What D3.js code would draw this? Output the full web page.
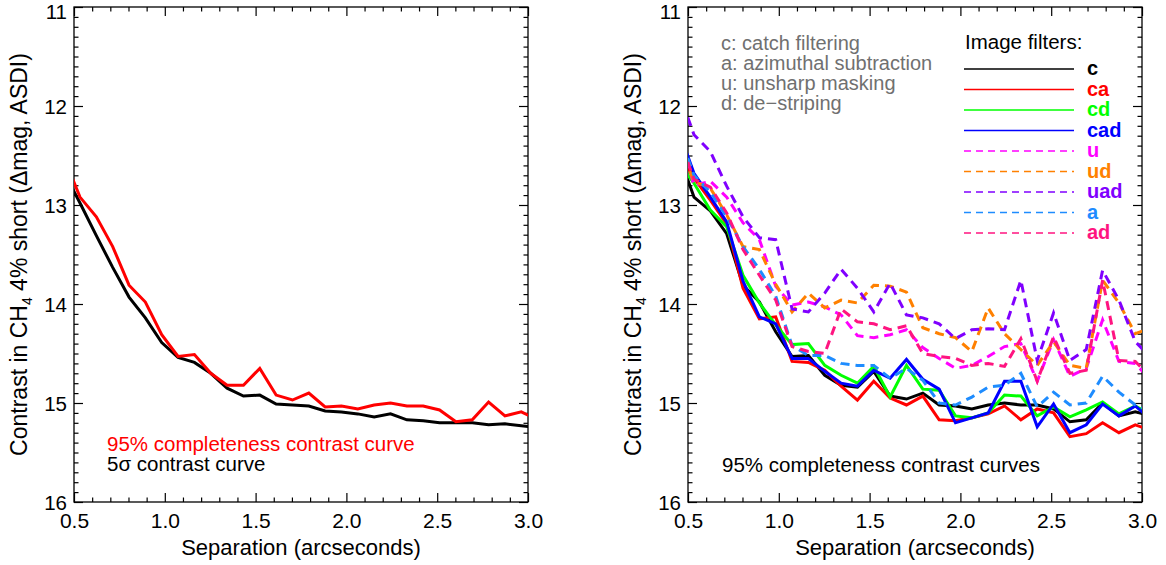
<!DOCTYPE html>
<html>
<head>
<meta charset="utf-8">
<script src="https://cdn.jsdelivr.net/npm/d3@7"></script>
<style>
  html, body { margin: 0; padding: 0; background: #fff; }
  svg { display: block; font-family: "Liberation Sans", Arial, Helvetica, sans-serif; }
</style>
</head>
<body>
<svg id="chart" width="1166" height="565"></svg>
<script>
// Sampled separations (arcsec); the first and last points sit just outside the axis range.
const separations = [0.443, 0.533, 0.623, 0.713, 0.803, 0.893, 0.983, 1.073, 1.163, 1.253,
  1.343, 1.433, 1.523, 1.613, 1.703, 1.793, 1.883, 1.973, 2.063, 2.153,
  2.243, 2.333, 2.423, 2.513, 2.603, 2.693, 2.783, 2.873, 2.963, 3.053];

// Left panel: contrast limits (delta mag)
const completeness95 = [12.51, 12.92, 13.12, 13.42, 13.81, 13.98, 14.31, 14.53, 14.51, 14.70,
  14.82, 14.82, 14.65, 14.92, 14.97, 14.90, 15.04, 15.03, 15.06, 15.02,
  15.00, 15.03, 15.03, 15.07, 15.19, 15.17, 14.99, 15.13, 15.09, 15.17];
const contrast5sigma = [12.66, 12.98, 13.31, 13.63, 13.93, 14.14, 14.39, 14.54, 14.59, 14.70,
  14.85, 14.93, 14.92, 15.01, 15.02, 15.03, 15.08, 15.09, 15.11, 15.14,
  15.11, 15.17, 15.18, 15.20, 15.20, 15.20, 15.22, 15.21, 15.23, 15.25];

// Right panel: 95% completeness curves per image-filter combination
const filterC = [12.46, 12.92, 13.06, 13.29, 13.81, 13.98, 14.28, 14.53, 14.52, 14.72,
  14.82, 14.84, 14.68, 14.93, 14.96, 14.90, 15.02, 15.03, 15.06, 15.02,
  15.00, 15.02, 15.02, 15.06, 15.19, 15.17, 15.00, 15.13, 15.09, 15.13];
const filterCA = [12.43, 12.73, 12.95, 13.19, 13.84, 14.15, 14.13, 14.58, 14.59, 14.67,
  14.83, 14.97, 14.78, 14.95, 15.02, 14.93, 15.17, 15.18, 15.15, 15.11,
  15.03, 15.17, 15.06, 15.10, 15.34, 15.31, 15.20, 15.30, 15.22, 15.28];
const filterCD = [12.56, 12.78, 13.05, 13.22, 13.71, 13.99, 14.21, 14.41, 14.40, 14.62,
  14.72, 14.80, 14.63, 14.94, 14.62, 14.86, 14.87, 15.13, 15.15, 15.10,
  14.92, 14.93, 15.13, 15.04, 15.14, 15.07, 14.99, 15.11, 15.03, 15.12];
const filterCAD = [12.22, 12.68, 12.92, 13.17, 13.77, 14.13, 14.20, 14.55, 14.55, 14.68,
  14.80, 14.83, 14.67, 14.75, 14.56, 14.76, 14.86, 15.20, 15.15, 15.10,
  14.78, 14.78, 15.24, 15.01, 15.30, 15.22, 15.01, 15.13, 15.03, 15.17];
const filterU = [12.25, 12.80, 12.76, 12.92, 13.18, 13.35, 13.82, 14.01, 13.98, 14.03,
  14.11, 14.32, 14.34, 14.31, 14.26, 14.44, 14.55, 14.65, 14.62, 14.53,
  14.43, 14.40, 14.78, 14.36, 14.73, 14.65, 14.16, 14.58, 14.60, 14.78];
const filterUD = [12.38, 12.76, 12.83, 13.10, 13.42, 13.45, 13.80, 14.08, 13.89, 14.04,
  13.96, 13.99, 13.81, 13.82, 13.88, 14.24, 14.30, 14.34, 14.48, 14.04,
  14.30, 14.46, 14.62, 14.38, 14.62, 14.65, 13.76, 13.99, 14.30, 14.24];
const filterUAD = [11.83, 12.29, 12.46, 12.81, 13.12, 13.33, 13.35, 14.05, 14.08, 13.89,
  13.65, 13.84, 14.08, 13.79, 14.11, 14.14, 14.20, 14.35, 14.26, 14.25,
  14.26, 13.76, 14.57, 14.09, 14.57, 14.46, 13.66, 13.96, 14.38, 14.55];
const filterA = [12.24, 12.70, 12.87, 13.12, 13.42, 13.65, 13.92, 14.42, 14.52, 14.52,
  14.60, 14.62, 14.62, 14.75, 14.65, 14.77, 15.00, 15.02, 14.94, 14.84,
  14.82, 14.70, 15.04, 14.89, 15.02, 15.00, 14.73, 14.89, 15.02, 15.08];
const filterAD = [12.28, 12.74, 12.82, 13.08, 13.45, 13.71, 13.96, 14.43, 14.48, 14.50,
  14.05, 14.18, 14.20, 14.26, 14.22, 14.50, 14.53, 14.55, 14.62, 14.60,
  14.63, 14.35, 14.78, 14.33, 14.70, 14.67, 13.76, 14.57, 14.58, 14.75];

const filterNames = ["c", "ca", "cd", "cad", "u", "ud", "uad", "a", "ad"];
const filterValues = [filterC, filterCA, filterCD, filterCAD, filterU, filterUD, filterUAD, filterA, filterAD];
const filterColors = ["#000000", "#ff0000", "#00ff00", "#0000ff", "#ff00ff", "#ff8000", "#8000ff", "#1e8cff", "#ff1480"];
const filterDashed = [false, false, false, false, true, true, true, true, true];

const filterKey = ["c: catch filtering", "a: azimuthal subtraction", "u: unsharp masking", "d: de\u2212striping"];

const xTickValues = [0.5, 1.0, 1.5, 2.0, 2.5, 3.0];
const xTickLabels = ["0.5", "1.0", "1.5", "2.0", "2.5", "3.0"];
const yTickValues = [11, 12, 13, 14, 15, 16];
const yTickLabels = ["11", "12", "13", "14", "15", "16"];

const svg = d3.select("#chart");
const plotW = 454, plotTop = 7, plotBottom = 502;
const panelLefts = [74, 688];
const FONT = "Liberation Sans, Arial, sans-serif";

function makePanel(idx) {
  const left = panelLefts[idx];
  const x = d3.scaleLinear().domain([0.5, 3.0]).range([left, left + plotW]);
  const y = d3.scaleLinear().domain([11, 16]).range([plotTop, plotBottom]);
  const g = svg.append("g");

  const clipId = "clip" + idx;
  svg.append("clipPath").attr("id", clipId)
    .append("rect").attr("x", left).attr("y", plotTop).attr("width", plotW).attr("height", plotBottom - plotTop);

  const xMinor = d3.range(6, 30).map(d => d / 10).filter(v => Math.abs(v * 2 - Math.round(v * 2)) > 1e-6);
  const yMinor = d3.range(111, 160).map(d => d / 10).filter(v => Math.abs(v - Math.round(v)) > 1e-6);

  const styleAxis = sel => {
    sel.select(".domain").remove();
    sel.selectAll("line").attr("stroke", "#000").attr("stroke-width", 1.2);
  };

  // major ticks with labels on bottom / left
  g.append("g").attr("transform", `translate(0,${plotBottom})`)
    .call(d3.axisBottom(x).tickValues(xTickValues).tickFormat((d, i) => xTickLabels[i])
      .tickSizeInner(-9).tickSizeOuter(0).tickPadding(11))
    .call(styleAxis)
    .selectAll("text").attr("font-size", 21).attr("fill", "#000").attr("font-family", FONT);
  // the top label is nudged down so it stays inside the page
  g.append("g").attr("transform", `translate(${left},0)`)
    .call(d3.axisLeft(y).tickValues(yTickValues).tickFormat((d, i) => yTickLabels[i])
      .tickSizeInner(-9).tickSizeOuter(0).tickPadding(7))
    .call(styleAxis)
    .selectAll("text").attr("font-size", 20.5).attr("fill", "#000").attr("font-family", FONT)
    .attr("dy", (d, i) => i === 0 ? "0.58em" : "0.36em");
  // mirrored major ticks
  g.append("g").attr("transform", `translate(0,${plotTop})`)
    .call(d3.axisTop(x).tickValues(xTickValues).tickFormat("").tickSizeInner(-9).tickSizeOuter(0))
    .call(styleAxis);
  g.append("g").attr("transform", `translate(${left + plotW},0)`)
    .call(d3.axisRight(y).tickValues(yTickValues).tickFormat("").tickSizeInner(-9).tickSizeOuter(0))
    .call(styleAxis);
  // minor ticks on all four sides
  g.append("g").attr("transform", `translate(0,${plotBottom})`)
    .call(d3.axisBottom(x).tickValues(xMinor).tickFormat("").tickSizeInner(-4.5).tickSizeOuter(0)).call(styleAxis);
  g.append("g").attr("transform", `translate(0,${plotTop})`)
    .call(d3.axisTop(x).tickValues(xMinor).tickFormat("").tickSizeInner(-4.5).tickSizeOuter(0)).call(styleAxis);
  g.append("g").attr("transform", `translate(${left},0)`)
    .call(d3.axisLeft(y).tickValues(yMinor).tickFormat("").tickSizeInner(-4.5).tickSizeOuter(0)).call(styleAxis);
  g.append("g").attr("transform", `translate(${left + plotW},0)`)
    .call(d3.axisRight(y).tickValues(yMinor).tickFormat("").tickSizeInner(-4.5).tickSizeOuter(0)).call(styleAxis);

  // frame
  g.append("rect").attr("x", left).attr("y", plotTop).attr("width", plotW).attr("height", plotBottom - plotTop)
    .attr("fill", "none").attr("stroke", "#000").attr("stroke-width", 1.3);

  // axis titles
  g.append("text").attr("x", left + plotW / 2).attr("y", 555).attr("text-anchor", "middle")
    .attr("font-size", 22).attr("fill", "#000").text("Separation (arcseconds)");
  const yt = g.append("text").attr("transform", `translate(${left - 47},${(plotTop + plotBottom) / 2}) rotate(-90)`)
    .attr("text-anchor", "middle").attr("font-size", 23).attr("fill", "#000");
  yt.append("tspan").text("Contrast in CH");
  yt.append("tspan").attr("font-size", 14).attr("dy", 5).text("4");
  yt.append("tspan").attr("dy", -5).text(" 4% short (\u0394mag, ASDI)");

  return { g, x, y, clipId };
}

function drawCurve(panel, values, color, width, dashed) {
  const line = d3.line().x((d, i) => panel.x(separations[i])).y(d => panel.y(d));
  panel.g.append("path").datum(values)
    .attr("clip-path", `url(#${panel.clipId})`)
    .attr("d", line).attr("fill", "none").attr("stroke", color)
    .attr("stroke-width", width).attr("stroke-linejoin", "miter")
    .attr("stroke-dasharray", dashed ? "9,6" : null);
}

// ---- Left panel ----
const pL = makePanel(0);
drawCurve(pL, contrast5sigma, "#000000", 3, false);
drawCurve(pL, completeness95, "#ff0000", 3, false);
pL.g.append("text").attr("x", 107).attr("y", 451).attr("font-size", 20.5).attr("fill", "#ff0000")
  .text("95% completeness contrast curve");
pL.g.append("text").attr("x", 107).attr("y", 471).attr("font-size", 20.5).attr("fill", "#000")
  .text("5\u03c3 contrast curve");

// ---- Right panel ----
const pR = makePanel(1);
filterValues.forEach((vals, i) => drawCurve(pR, vals, filterColors[i], 3, filterDashed[i]));

pR.g.append("text").attr("x", 722).attr("y", 472).attr("font-size", 20.5).attr("fill", "#000")
  .text("95% completeness contrast curves");

filterKey.forEach((t, i) => {
  pR.g.append("text").attr("x", 721).attr("y", 50 + i * 20).attr("font-size", 20).attr("fill", "#707070").text(t);
});

pR.g.append("text").attr("x", 965).attr("y", 49).attr("font-size", 20.5).attr("fill", "#000").text("Image filters:");
const legend = pR.g.append("g");
filterNames.forEach((name, i) => {
  const ry = 69 + i * 20.5;
  legend.append("line").attr("x1", 964).attr("x2", 1074).attr("y1", ry).attr("y2", ry)
    .attr("stroke", filterColors[i]).attr("stroke-width", 1.6)
    .attr("stroke-dasharray", filterDashed[i] ? "7,5" : null);
  legend.append("text").attr("x", 1087).attr("y", ry + 6).attr("font-size", 20).attr("font-weight", "bold")
    .attr("fill", filterColors[i]).text(name);
});
</script>
</body>
</html>
